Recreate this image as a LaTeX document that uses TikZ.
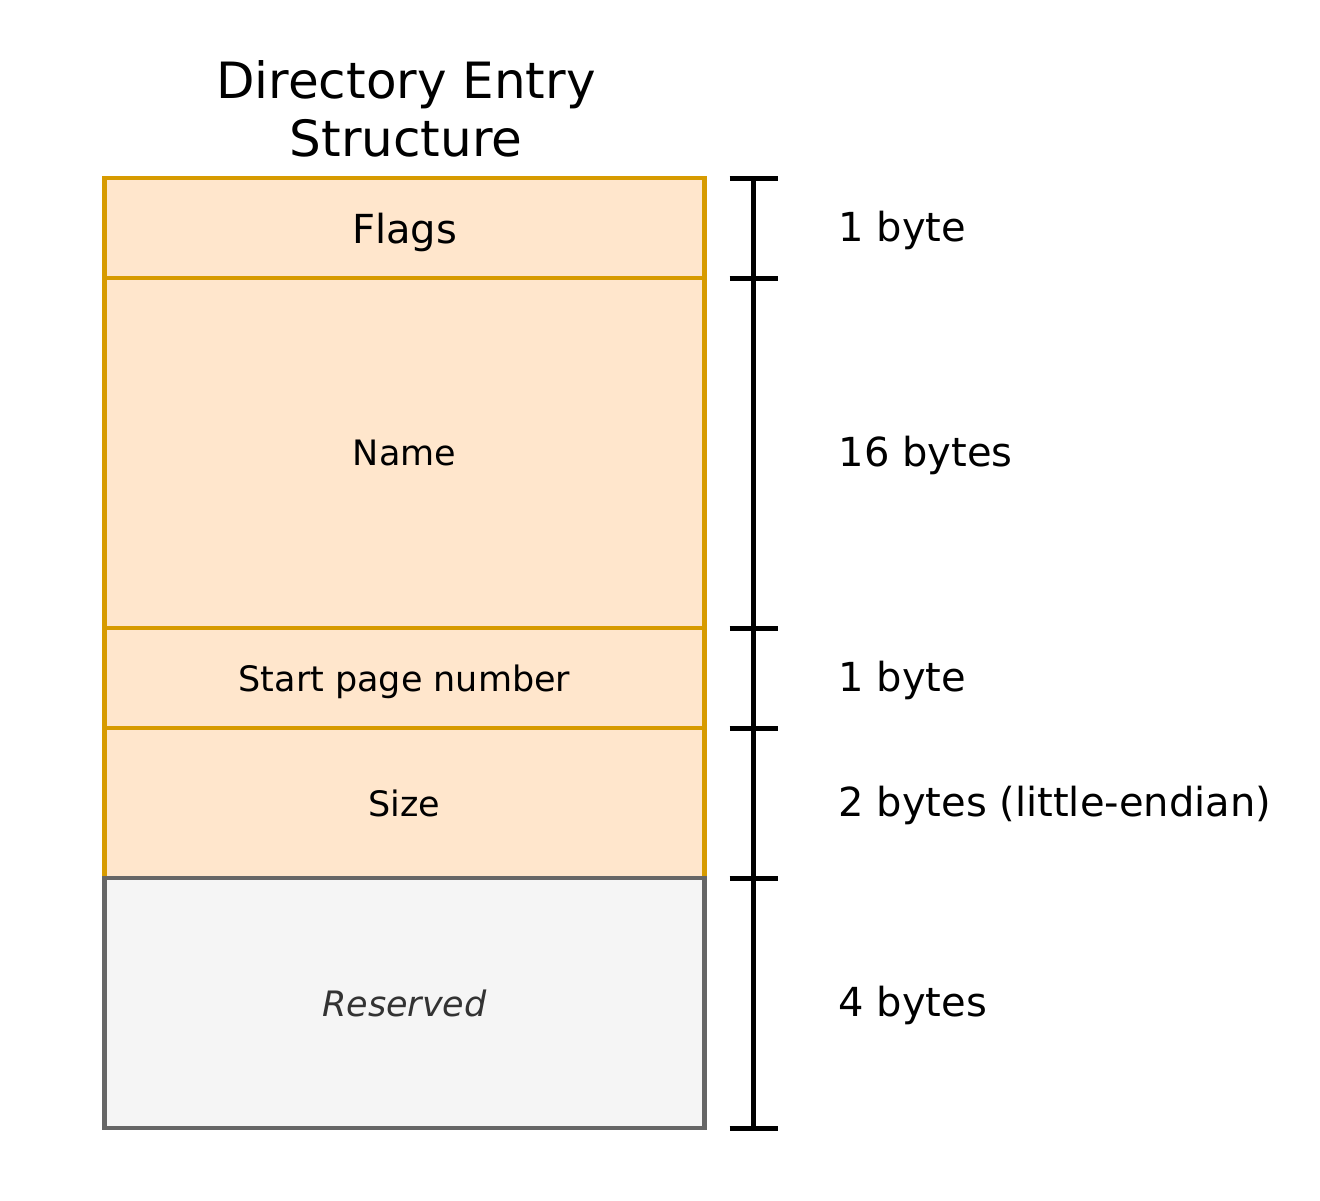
\documentclass[tikz,border=0pt]{standalone}
\usepackage{fontspec}
\setmainfont{DejaVu Sans}
\usetikzlibrary{positioning}
\definecolor{fieldfill}{HTML}{FFE6CC}
\definecolor{fielddraw}{HTML}{D79B00}
\definecolor{resfill}{HTML}{F5F5F5}
\definecolor{resdraw}{HTML}{666666}
\definecolor{restext}{HTML}{333333}

\begin{document}
\begin{tikzpicture}[x=1pt,y=-1pt,
	field/.style={draw=fielddraw,fill=fieldfill,line width=4.5pt,minimum width=600pt,
		inner sep=0pt,outer sep=0pt,text depth=0pt,font=\fontsize{35}{42}\selectfont},
	reserved/.style={field,draw=resdraw,fill=resfill,text=restext,
		font=\fontsize{35}{42}\selectfont\itshape},
	bytes/.style={anchor=west,inner sep=0pt,text depth=4pt,font=\fontsize{40}{48}\selectfont},
	bar/.style={line width=5pt},
	tick/.style={line width=5pt}]
	\useasboundingbox (0,0) rectangle (1320,1200);

	% title
	\node[align=center,font=\fontsize{50}{58}\selectfont] (title) at (406,109)
		{Directory Entry\\Structure};

	% fields
	\node[field,minimum height=100pt,font=\fontsize{40}{48}\selectfont] (flags) at (404.5,228) {Flags};
	\node[field,minimum height=350pt,below=0pt of flags] (name) {Name};
	\node[field,minimum height=100pt,below=0pt of name] (start) {Start page number};
	\node[field,minimum height=150pt,below=0pt of start] (size) {Size};
	\node[reserved,minimum height=250pt,below=0pt of size] (res) {Reserved};

	% size bar
	\draw[bar] ([xshift=49pt]flags.north east) -- ([xshift=49pt]res.south east);
	\foreach \n in {flags,name,start,size,res}
		\draw[tick] ([xshift=25pt]\n.north east) -- ([xshift=73pt]\n.north east);
	\draw[tick] ([xshift=25pt]res.south east) -- ([xshift=73pt]res.south east);

	% sizes
	\node[bytes] (flagsbytes) at ([xshift=134pt]flags.east) {1 byte};
	\node[bytes] (namebytes) at ([xshift=134pt]name.east) {16 bytes};
	\node[bytes] (startbytes) at ([xshift=134pt]start.east) {1 byte};
	\node[bytes] (sizebytes) at ([xshift=134pt]size.east) {2 bytes (little-endian)};
	\node[bytes] (resbytes) at ([xshift=134pt]res.east) {4 bytes};
\end{tikzpicture}
\end{document}
